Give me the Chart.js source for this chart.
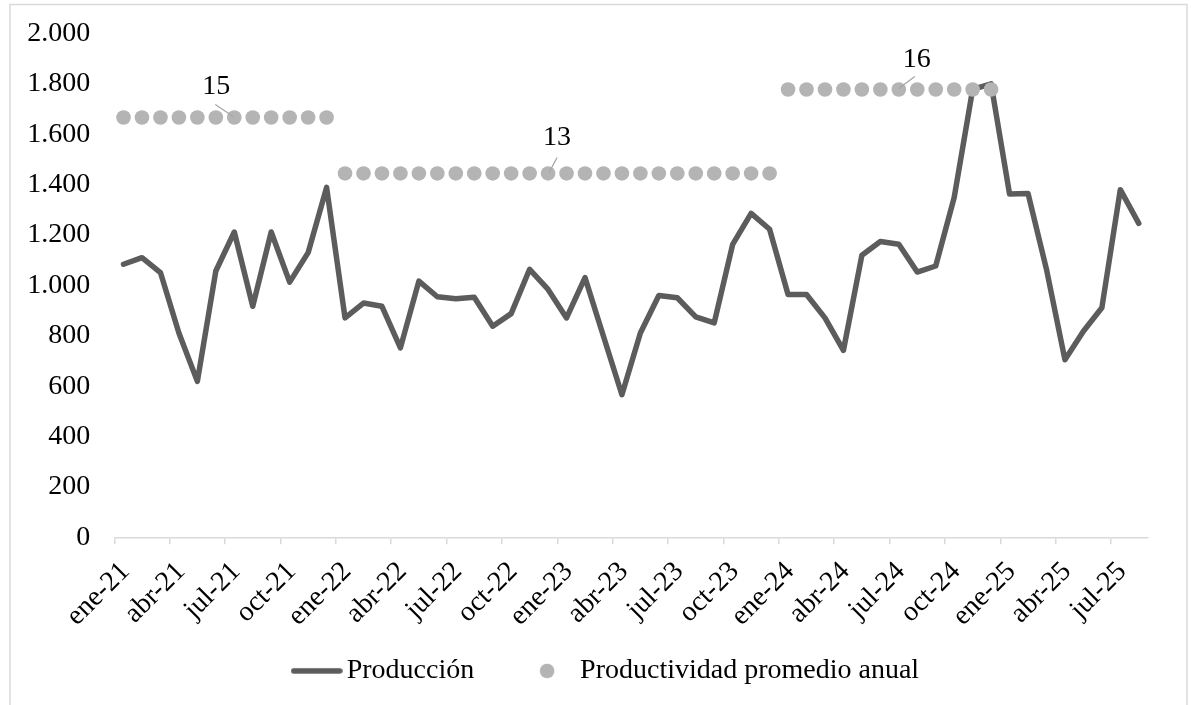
<!DOCTYPE html>
<html>
<head>
<meta charset="utf-8">
<script src="https://cdn.jsdelivr.net/npm/chart.js@4.4.1/dist/chart.umd.min.js"></script>
<style>
html,body{margin:0;padding:0;background:#ffffff;}
canvas{display:block;}
</style>
</head>
<body>
<canvas id="c" width="1191" height="705"></canvas>
<script>
// ---- DATA ----
const categories = [
  'ene-21','feb-21','mar-21','abr-21','may-21','jun-21','jul-21','ago-21','sep-21','oct-21','nov-21','dic-21',
  'ene-22','feb-22','mar-22','abr-22','may-22','jun-22','jul-22','ago-22','sep-22','oct-22','nov-22','dic-22',
  'ene-23','feb-23','mar-23','abr-23','may-23','jun-23','jul-23','ago-23','sep-23','oct-23','nov-23','dic-23',
  'ene-24','feb-24','mar-24','abr-24','may-24','jun-24','jul-24','ago-24','sep-24','oct-24','nov-24','dic-24',
  'ene-25','feb-25','mar-25','abr-25','may-25','jun-25','jul-25','ago-25'
];
const produccion = [
  1084, 1110, 1051, 811, 619, 1057, 1212, 917, 1212, 1013, 1130, 1389,
  871, 930, 917, 752, 1017, 955, 947, 953, 838, 888, 1064, 984,
  871, 1031, 798, 566, 811, 960, 951, 875, 851, 1163, 1286, 1223,
  964, 964, 871, 742, 1120, 1174, 1163, 1053, 1077, 1349, 1778, 1800,
  1363, 1365, 1064, 705, 818, 911, 1380, 1246
];
const productividad = [
  15, 15, 15, 15, 15, 15, 15, 15, 15, 15, 15, 15,
  13, 13, 13, 13, 13, 13, 13, 13, 13, 13, 13, 13,
  13, 13, 13, 13, 13, 13, 13, 13, 13, 13, 13, 13,
  16, 16, 16, 16, 16, 16, 16, 16, 16, 16, 16, 16,
  null, null, null, null, null, null, null, null
];
const seriesNames = ['Producción', 'Productividad promedio anual'];
const labeledPoints = [6, 23, 42];   // dots that carry a value label

// ---- STYLE ----
const FONT = '"Liberation Serif", "Times New Roman", serif';
const FS = 28;
const LINE_COLOR = '#5c5c5c';
const DOT_COLOR = '#b4b4b4';
const AXIS_COLOR = '#d9d9d9';
const labelStyle = [
  {dx: -18, dy: -31, l1x: -19, l1y: -13, l2x: -1, l2y: -1},
  {dx: 9,   dy: -36, l1x: 9,   l1y: -16, l2x: 1,  l2y: -1},
  {dx: 18,  dy: -30, l1x: 16,  l1y: -13, l2x: 0,  l2y: -1}
];
const LEGEND_BOX = { left: 71.8, top: 597 };

function fmt(v){ return String(v).replace(/\B(?=(\d{3})+(?!\d))/g, '.'); }

// legend symbols
const lineSym = document.createElement('canvas');
lineSym.width = 52; lineSym.height = 8;
(function(){ const g = lineSym.getContext('2d'); g.strokeStyle = LINE_COLOR; g.lineWidth = 5.5; g.lineCap = 'round';
  g.beginPath(); g.moveTo(3, 4); g.lineTo(49, 4); g.stroke(); })();
const dotSym = document.createElement('canvas');
dotSym.width = 40; dotSym.height = 16;
(function(){ const g = dotSym.getContext('2d'); g.fillStyle = DOT_COLOR;
  g.beginPath(); g.arc(17, 8, 7.3, 0, Math.PI*2); g.fill(); })();

const framePlugin = {
  id: 'frame',
  beforeDraw(chart){
    const ctx = chart.ctx;
    ctx.save();
    ctx.fillStyle = '#ffffff';
    ctx.fillRect(0, 0, chart.width, chart.height);
    ctx.strokeStyle = AXIS_COLOR;
    ctx.lineWidth = 1.5;
    ctx.strokeRect(10, 4.5, 1177, 760);
    ctx.restore();
  }
};

const legendPlace = {
  id: 'legendPlace',
  afterLayout(chart){
    const lg = chart.legend;
    if (!lg) return;
    const right = lg.right;
    lg.left = LEGEND_BOX.left;
    lg.width = right - LEGEND_BOX.left;
    lg.top = LEGEND_BOX.top;
    lg.bottom = chart.height;
    lg.height = chart.height - LEGEND_BOX.top;
  }
};

const valueLabels = {
  id: 'valueLabels',
  afterDatasetsDraw(chart){
    const ctx = chart.ctx;
    const meta = chart.getDatasetMeta(1);
    ctx.save();
    labeledPoints.forEach((idx, k) => {
      const p = meta.data[idx];
      const s = labelStyle[k];
      ctx.strokeStyle = '#a6a6a6';
      ctx.lineWidth = 1.3;
      ctx.beginPath();
      ctx.moveTo(p.x + s.l1x, p.y + s.l1y);
      ctx.lineTo(p.x + s.l2x, p.y + s.l2y);
      ctx.stroke();
      ctx.fillStyle = '#000000';
      ctx.font = FS + 'px ' + FONT;
      ctx.textAlign = 'center';
      ctx.textBaseline = 'middle';
      ctx.fillText(String(productividad[idx]), p.x + s.dx, p.y + s.dy);
    });
    ctx.restore();
  }
};

Chart.defaults.font.family = FONT;
Chart.defaults.font.size = FS;
Chart.defaults.color = '#000000';

new Chart(document.getElementById('c'), {
  type: 'line',
  data: {
    labels: categories,
    datasets: [
      {
        label: seriesNames[0],
        data: produccion,
        yAxisID: 'y',
        borderColor: LINE_COLOR,
        backgroundColor: LINE_COLOR,
        borderWidth: 5.5,
        borderCapStyle: 'round',
        borderJoinStyle: 'round',
        pointRadius: 0,
        tension: 0,
        fill: false,
        order: 1
      },
      {
        label: seriesNames[1],
        data: productividad,
        yAxisID: 'y2',
        showLine: false,
        pointRadius: 7.3,
        pointHoverRadius: 7.3,
        pointBackgroundColor: DOT_COLOR,
        pointBorderWidth: 0,
        pointBorderColor: DOT_COLOR,
        order: 0
      }
    ]
  },
  options: {
    responsive: false,
    devicePixelRatio: 1,
    animation: false,
    events: [],
    layout: { padding: { left: 10, right: 43, top: 33.5, bottom: 0 } },
    scales: {
      x: {
        type: 'category',
        offset: true,
        grid: {
          display: true,
          offset: true,
          drawOnChartArea: false,
          drawTicks: true,
          tickLength: 7,
          lineWidth: 1.5,
          color: (c) => (c.index !== undefined && c.index % 3 === 0) ? AXIS_COLOR : 'rgba(0,0,0,0)'
        },
        border: { display: true, color: AXIS_COLOR, width: 1.5 },
        ticks: {
          autoSkip: false,
          maxRotation: 45,
          minRotation: 45,
          padding: 11,
          labelOffset: 2,
          color: '#000000',
          font: { family: FONT, size: FS },
          callback: function(v, i){ return i % 3 === 0 ? this.getLabelForValue(v) : ''; }
        },
        afterFit: (s) => { s.height = 119.7; }
      },
      y: {
        position: 'left',
        min: 0,
        max: 2000,
        grid: { display: true, drawOnChartArea: false, drawTicks: true, tickLength: 24, color: 'rgba(0,0,0,0)' },
        border: { display: false },
        ticks: {
          stepSize: 200,
          padding: 0,
          color: '#000000',
          font: { family: FONT, size: FS },
          callback: (v) => fmt(v)
        },
        afterFit: (s) => { s.width = 104.3; }
      },
      y2: {
        display: false,
        min: 0,
        max: 18
      }
    },
    plugins: {
      tooltip: { enabled: false },
      title: { display: false },
      legend: {
        display: true,
        position: 'bottom',
        align: 'center',
        maxHeight: 48,
        labels: {
          usePointStyle: true,
          pointStyleWidth: 32,
          padding: 59.9,
          color: '#000000',
          font: { family: FONT, size: FS },
          generateLabels: () => [
            { text: seriesNames[0], pointStyle: lineSym, datasetIndex: 0, fillStyle: LINE_COLOR, strokeStyle: LINE_COLOR, lineWidth: 0, hidden: false, fontColor: '#000000' },
            { text: seriesNames[1], pointStyle: dotSym, datasetIndex: 1, fillStyle: DOT_COLOR, strokeStyle: DOT_COLOR, lineWidth: 0, hidden: false, fontColor: '#000000' }
          ]
        }
      }
    }
  },
  plugins: [framePlugin, legendPlace, valueLabels]
});
</script>
</body>
</html>
